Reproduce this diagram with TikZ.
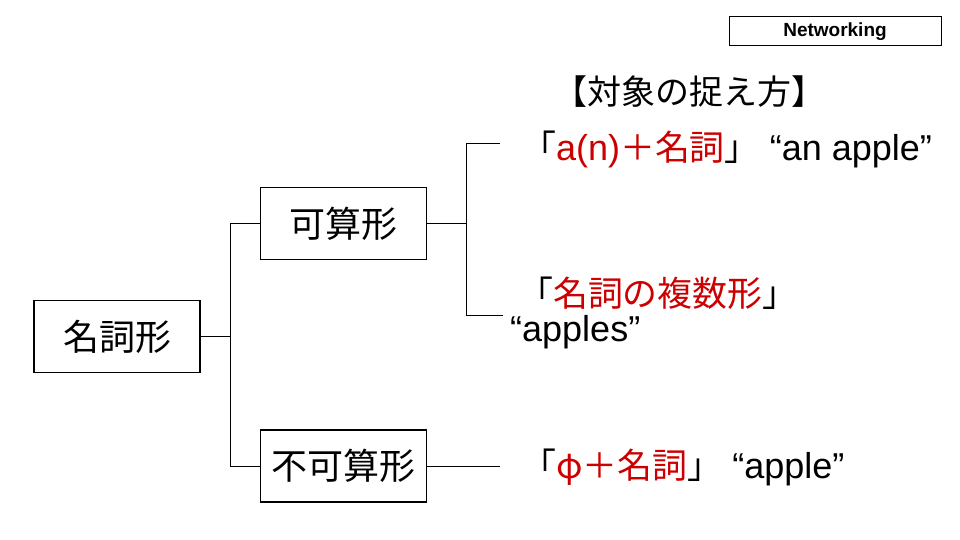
\documentclass[tikz,border=0pt]{standalone}
\usepackage{fontspec}
\setmainfont{Liberation Sans}
\newfontfamily\jp{Noto Sans CJK JP}
\newfontfamily\jpr[Scale=0.97]{Noto Sans CJK JP}
\definecolor{jred}{RGB}{204,0,0}
\begin{document}
\begin{tikzpicture}[x=1pt,y=-1pt,
  boxnode/.style={draw=black,line width=1.3pt,minimum width=166pt,minimum height=72pt,inner sep=0pt,font=\fontsize{36}{40}\selectfont\jp},
  txtnode/.style={inner sep=0pt,anchor=west,font=\fontsize{36}{40}\selectfont},
  conn/.style={draw=black,line width=0.9pt}]
\useasboundingbox (0,0) rectangle (960,540);
\node[draw=black,line width=1pt,minimum width=212pt,minimum height=29pt,inner sep=0pt,font=\fontsize{19}{22}\selectfont\bfseries] (net) at (835,31.5) {Networking};
\node[boxnode] (meishi) at (117,336.5) {名詞形};
\node[boxnode] (kasan) at (343.5,223.5) {可算形};
\node[boxnode] (fukasan) at (343.5,466) {不可算形};
\node[inner sep=0pt,font=\fontsize{34}{38}\selectfont\jp] (title) at (689,92) {【対象の捉え方】};
\node[txtnode] (t1) at (521,149) {{\jpr 「}\textcolor{jred}{a(n){\jpr ＋名詞}}{\jpr 」} “an apple”};
\node[txtnode] (t2) at (518,293) {{\jpr 「\textcolor{jred}{名詞の複数形}」}};
\node[txtnode] (t2b) at (510,332) {“apples”};
\node[txtnode] (t3) at (521,467) {{\jpr 「\textcolor{jred}{φ＋名詞}」} “apple”};
\coordinate (j1) at (230,0);
\coordinate (j2) at (466,0);
\coordinate (b1) at (500,143);
\coordinate (b2) at (503,315);
\coordinate (b3) at (500,466);
\draw[conn] (meishi.east) -- (meishi.east -| j1);
\draw[conn] (kasan.west) -| (j1 |- fukasan.west) -- (fukasan.west);
\draw[conn] (kasan.east) -- (kasan.east -| j2);
\draw[conn] (b1) -| (j2 |- b2) -- (b2);
\draw[conn] (fukasan.east) -- (b3);
\end{tikzpicture}
\end{document}
